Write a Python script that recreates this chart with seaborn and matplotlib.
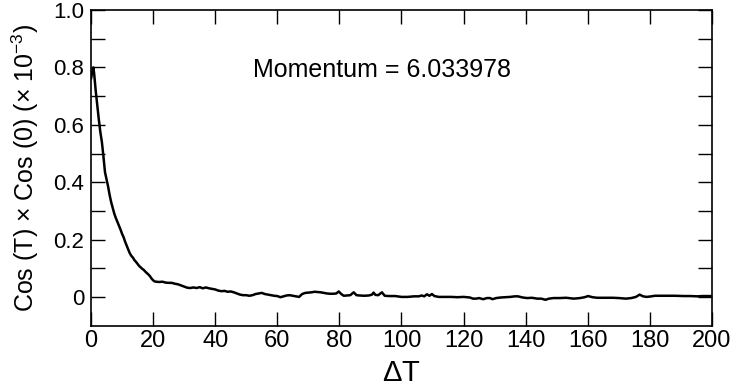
import matplotlib
matplotlib.use("Agg")
import matplotlib.pyplot as plt
import matplotlib.ticker as mticker
import seaborn as sns
import pandas as pd

# Time separation (lattice units) and the measured correlation
delta_t = [
    0, 0.5, 0.75, 1, 1.5, 2, 2.5, 3, 3.5, 4, 4.5, 5, 5.5, 6, 6.5, 7, 7.5, 8,
    8.5, 9, 9.5, 10, 10.5, 11, 11.5, 12, 12.5, 13, 13.5, 14, 14.5, 15, 15.5,
    16, 16.5, 17, 17.5, 18, 18.5, 19, 19.5, 20, 20.5, 21, 22, 23, 24, 25, 26,
    27, 28, 29, 30, 31, 32, 33, 34, 35, 36, 37, 38, 39, 40, 41, 42, 43, 44,
    45, 46, 47, 48, 49, 50, 51, 52, 53, 54, 55, 56, 57, 58, 59,
    60, 61, 62, 63, 64, 65, 66, 67, 68, 69, 70, 71, 72, 73, 74, 75, 76, 77,
    78, 79, 79.8, 80.6, 81.4, 82.5, 83.5, 84.6, 85.5, 86.5, 88, 89.5, 90.5,
    91, 91.6, 92.5, 93.7, 94.6, 96, 98, 100, 102, 104, 105.6, 106.5, 107.3,
    108.2, 109, 109.8, 110.6, 112, 114, 116, 118, 120, 122, 123, 124.1, 125,
    126.3, 127.5, 128.5, 129.3, 130.5, 132, 133.5, 135, 136.5, 137.5, 139,
    140.5, 142, 143.7, 145, 146.4, 147.5, 149, 151, 153, 155.5, 157.5, 159,
    160.1, 161.5, 163, 165, 168, 170, 172.3, 174, 175.5, 176.7, 177.8, 179,
    180.5, 181.6, 183, 185.9, 188, 191, 193, 195.3, 197, 199, 200,
]
correlation = [
    0.76, 0.79, 0.80, 0.78, 0.72, 0.67, 0.62, 0.575, 0.54, 0.49, 0.435, 0.41,
    0.385, 0.355, 0.33, 0.31, 0.29, 0.275, 0.262, 0.248, 0.235, 0.22, 0.208,
    0.192, 0.178, 0.165, 0.152, 0.143, 0.137, 0.128, 0.122, 0.115, 0.108,
    0.103, 0.098, 0.094, 0.088, 0.083, 0.078, 0.072, 0.064, 0.058, 0.054,
    0.053, 0.052, 0.053, 0.050, 0.049, 0.049, 0.046, 0.044, 0.040, 0.036,
    0.032, 0.031, 0.033, 0.031, 0.034, 0.030, 0.033, 0.030, 0.028, 0.026,
    0.022, 0.020, 0.021, 0.018, 0.019, 0.016, 0.012, 0.008, 0.006, 0.006,
    0.004, 0.006, 0.010, 0.012, 0.014, 0.010, 0.008, 0.006, 0.004,
    0.003, -0.001, 0.002, 0.005, 0.006, 0.004, 0.002, 0.000, 0.010, 0.014,
    0.015, 0.016, 0.018, 0.017, 0.016, 0.014, 0.012, 0.011, 0.011, 0.012,
    0.019, 0.010, 0.004, 0.005, 0.006, 0.016, 0.006, 0.005, 0.004, 0.005,
    0.008, 0.015, 0.007, 0.006, 0.016, 0.004, 0.003, 0.003, 0.000, 0.000,
    0.002, 0.002, 0.005, 0.002, 0.009, 0.004, 0.010, 0.003, 0.000, 0.000,
    0.000, -0.001, 0.000, -0.002, -0.006, -0.006, -0.004, -0.008, -0.004,
    -0.004, -0.008, -0.004, -0.002, -0.001, 0.000, 0.002, 0.002, -0.002,
    -0.004, -0.003, -0.006, -0.006, -0.010, -0.006, -0.004, -0.004, -0.003,
    -0.006, -0.004, -0.001, 0.003, -0.001, -0.003, -0.003, -0.003, -0.004,
    -0.006, -0.004, 0.000, 0.008, 0.002, 0.000, 0.002, 0.004, 0.004, 0.004,
    0.004, 0.003, 0.003, 0.002, 0.003, 0.003, 0.003,
]

x_ticks = [0, 20, 40, 60, 80, 100, 120, 140, 160, 180, 200]
y_ticks = [0, 0.2, 0.4, 0.6, 0.8, 1.0]
y_tick_labels = ["0", "0.2", "0.4", "0.6", "0.8", "1.0"]
annotation = "Momentum = 6.033978"

df = pd.DataFrame({"dt": delta_t, "corr": correlation})

sns.set_theme(style="ticks")
plt.rcParams["font.family"] = ["Liberation Sans", "DejaVu Sans"]
plt.rcParams["mathtext.fontset"] = "custom"
plt.rcParams["mathtext.rm"] = "Liberation Sans"

fig = plt.figure(figsize=(7.34, 3.89), dpi=100)
ax = fig.add_axes([0.124, 0.163, 0.846, 0.811])

sns.lineplot(data=df, x="dt", y="corr", ax=ax, color="black",
             linewidth=1.8, estimator=None, sort=False)

ax.set_xlim(0, 200)
ax.set_ylim(-0.1, 1.0)
ax.set_xticks(x_ticks)
ax.set_xticklabels([str(t) for t in x_ticks])
ax.set_yticks(y_ticks)
ax.set_yticklabels(y_tick_labels)
ax.yaxis.set_minor_locator(mticker.FixedLocator([0.1, 0.3, 0.5, 0.7, 0.9]))

ax.tick_params(axis="both", which="both", direction="in", color="black",
               top=True, right=True, width=1.0, labelcolor="black")
ax.tick_params(axis="x", which="major", length=10, pad=3, labelsize=17)
ax.tick_params(axis="y", which="major", length=10, pad=5, labelsize=16)
ax.tick_params(axis="y", which="minor", length=10)
for side in ax.spines.values():
    side.set_color("black")
    side.set_linewidth(1.2)

ax.set_xlabel(r"$\Delta$T", fontsize=21, color="black", labelpad=5)
ax.set_ylabel(r"Cos (T) $\times$ Cos (0) ($\times$ 10$^{-3}$)",
              fontsize=18, color="black", labelpad=9)

ax.text(93.7, 0.79, annotation, fontsize=18, color="black",
        ha="center", va="center")

fig.savefig("out.png", dpi=100)
